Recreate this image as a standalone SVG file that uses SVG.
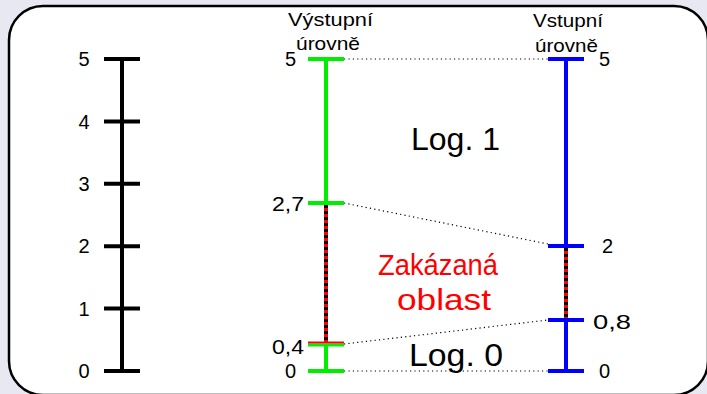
<svg xmlns="http://www.w3.org/2000/svg" width="707" height="394" viewBox="0 0 707 394">
  <style>
    .lbl { font-family: "Liberation Sans", Arial, sans-serif; font-size: 20px; fill: #000; }
    .hdr { font-family: "Liberation Sans", Arial, sans-serif; font-size: 19px; fill: #000; }
    .big { font-family: "Liberation Sans", Arial, sans-serif; font-size: 31px; }
    .warn { font-family: "Liberation Sans", Arial, sans-serif; font-size: 30px; fill: #ff0000; }
    .axis { stroke-width: 4; fill: none; }
    .guide { stroke: #000; stroke-width: 1.2; stroke-dasharray: 1.2 3.2; fill: none; }
    .forbid { stroke: #ff0000; stroke-width: 4; }
    .forbid-dots { stroke: #000; stroke-width: 4; stroke-dasharray: 3 3; }
  </style>
  <rect x="0" y="0" width="707" height="394" fill="#e8e8f3"/>
  <rect x="9" y="6" width="699" height="389" rx="34" ry="34" fill="#fff" stroke="#000" stroke-width="2.5"/>

  <!-- reference scale 0-5 V -->
  <g id="scale">
    <path class="axis" stroke="#000" d="M122 59V371M104 59H140M104 121.4H140M104 183.8H140M104 246.2H140M104 308.6H140M104 371H140"/>
    <text class="lbl" x="84" y="66" text-anchor="middle">5</text>
    <text class="lbl" x="84" y="129" text-anchor="middle">4</text>
    <text class="lbl" x="84" y="191" text-anchor="middle">3</text>
    <text class="lbl" x="84" y="253" text-anchor="middle">2</text>
    <text class="lbl" x="84" y="316" text-anchor="middle">1</text>
    <text class="lbl" x="84" y="378" text-anchor="middle">0</text>
  </g>

  <!-- output levels -->
  <g id="output">
    <path class="axis" stroke="#00ee00" d="M326 59V203M326 344V371M308 59H344M308 203H344M308 371H344"/>
    <line class="forbid" x1="326" y1="205" x2="326" y2="342"/>
    <line class="forbid-dots" x1="326" y1="205" x2="326" y2="342"/>
    <line x1="308" y1="345" x2="344" y2="345" stroke="#00ee00" stroke-width="3"/>
    <line x1="308" y1="342.5" x2="344" y2="342.5" stroke="#ff0000" stroke-width="2"/>
    <text class="hdr" x="288" y="26" textLength="85" lengthAdjust="spacingAndGlyphs">Výstupní</text>
    <text class="hdr" x="296" y="50" textLength="64" lengthAdjust="spacingAndGlyphs">úrovně</text>
    <text class="lbl" x="296" y="66" text-anchor="end">5</text>
    <text class="lbl" x="272" y="211" textLength="32" lengthAdjust="spacingAndGlyphs">2,7</text>
    <text class="lbl" x="272" y="354" textLength="32" lengthAdjust="spacingAndGlyphs">0,4</text>
    <text class="lbl" x="296" y="378" text-anchor="end">0</text>
  </g>

  <!-- input levels -->
  <g id="input">
    <path class="axis" stroke="#0000ff" d="M566 59V246M566 320V371M548 59H584M548 246H584M548 320H584M548 371H584"/>
    <line class="forbid" x1="566" y1="248" x2="566" y2="318"/>
    <line class="forbid-dots" x1="566" y1="248" x2="566" y2="318"/>
    <text class="hdr" x="533" y="27" textLength="70" lengthAdjust="spacingAndGlyphs">Vstupní</text>
    <text class="hdr" x="535" y="52" textLength="63" lengthAdjust="spacingAndGlyphs">úrovně</text>
    <text class="lbl" x="599" y="66">5</text>
    <text class="lbl" x="602" y="253">2</text>
    <text class="lbl" x="593" y="329" textLength="38" lengthAdjust="spacingAndGlyphs">0,8</text>
    <text class="lbl" x="599" y="378">0</text>
  </g>

  <!-- dotted guides between levels -->
  <g id="connectors">
    <line class="guide" x1="344" y1="59" x2="548" y2="59"/>
    <line class="guide" x1="344" y1="203" x2="548" y2="244"/>
    <line class="guide" x1="344" y1="344" x2="548" y2="320"/>
    <line class="guide" x1="344" y1="371" x2="548" y2="371"/>
  </g>

  <g id="regions">
    <text class="big" x="411" y="150" textLength="89" lengthAdjust="spacingAndGlyphs" fill="#000">Log. 1</text>
    <text class="warn" x="438" y="275" text-anchor="middle" textLength="120" lengthAdjust="spacingAndGlyphs">Zakázaná</text>
    <text class="warn" x="444" y="310" text-anchor="middle" textLength="94" lengthAdjust="spacingAndGlyphs">oblast</text>
    <text class="big" x="409" y="366" textLength="94" lengthAdjust="spacingAndGlyphs" fill="#000">Log. 0</text>
  </g>
</svg>
